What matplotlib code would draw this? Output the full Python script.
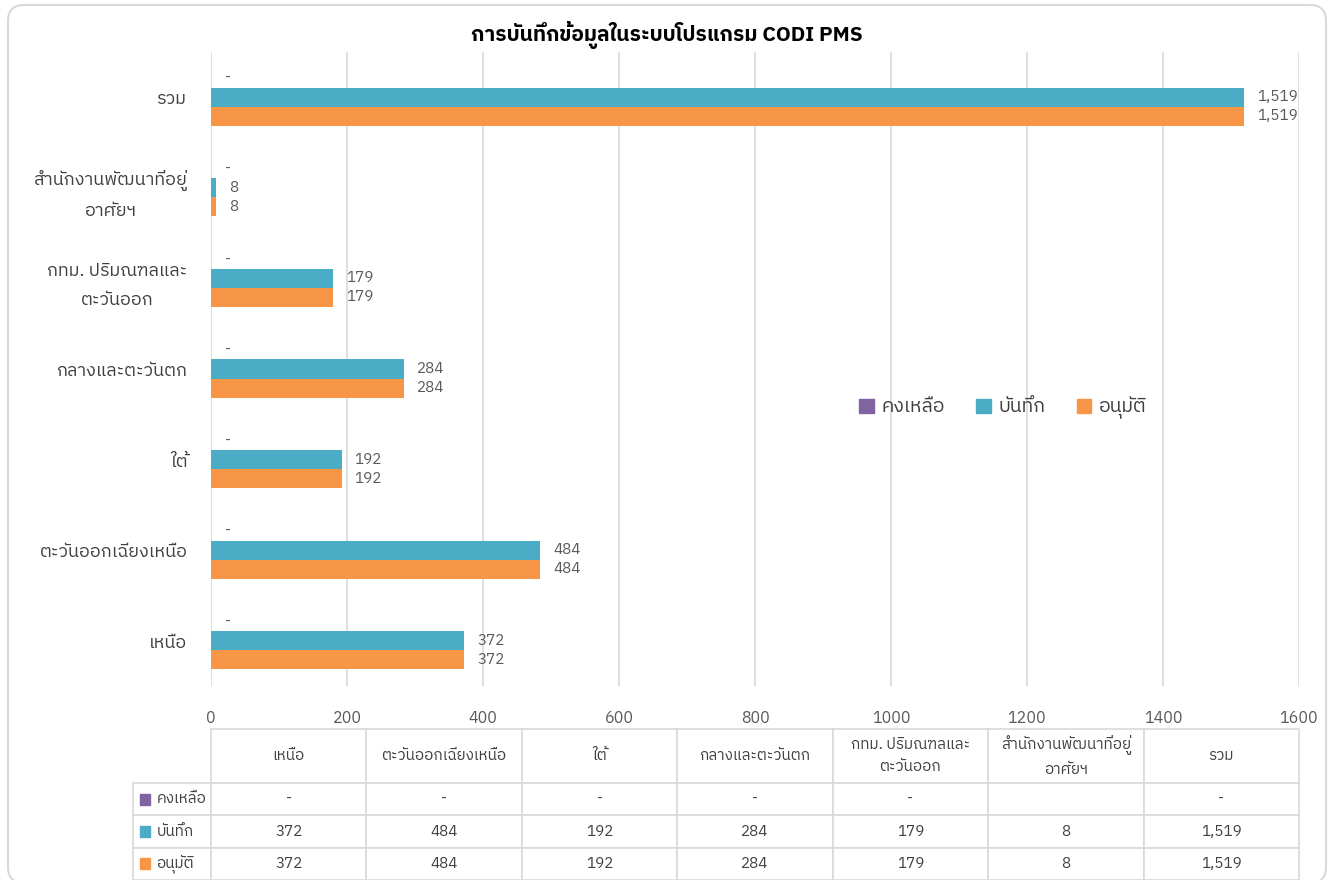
import matplotlib
matplotlib.use("Agg")
import matplotlib.pyplot as plt
import numpy as np
from matplotlib import font_manager
from matplotlib.ft2font import FT2Font
from matplotlib.patches import Patch, Rectangle, FancyBboxPatch
from matplotlib.table import Table
from matplotlib.transforms import IdentityTransform

# data (bottom to top, as in the chart)
categories = ['เหนือ', 'ตะวันออกเฉียงเหนือ', 'ใต้', 'กลางและตะวันตก',
              'กทม. ปริมณฑลและ\nตะวันออก', 'สำนักงานพัฒนาที่อยู่\nอาศัยฯ', 'รวม']
remaining = [0, 0, 0, 0, 0, 0, 0]
remaining_text = ['-', '-', '-', '-', '-', '', '-']
recorded = [372, 484, 192, 284, 179, 8, 1519]
approved = [372, 484, 192, 284, 179, 8, 1519]
series_names = ['คงเหลือ', 'บันทึก', 'อนุมัติ']
colors = ['#8064A2', '#4BACC6', '#F79646']
x_ticks = [0, 200, 400, 600, 800, 1000, 1200, 1400, 1600]
title = 'การบันทึกข้อมูลในระบบโปรแกรม CODI PMS'


# pick an installed font that has Thai glyphs
def find_thai_font():
    found = []
    for f in font_manager.fontManager.ttflist:
        try:
            cmap = FT2Font(f.fname).get_charmap()
        except Exception:
            continue
        if 0x0E01 in cmap:
            found.append(f.name)
    for name in found:
        if 'Thai' in name and 'Looped' not in name:
            return name
    return found[0] if found else 'DejaVu Sans'


thai = find_thai_font()
plt.rcParams['font.family'] = [thai, 'DejaVu Sans']

text_col = '#595959'
label_col = '#404040'
grid_col = '#d9d9d9'

W, H = 1333, 880
fig = plt.figure(figsize=(W / 100, H / 100), dpi=100)
fig.patch.set_facecolor('white')

# axes placed in pixel terms
left, right, top, bottom = 211, 1299, 52, 686
axw, axh = right - left, bottom - top
ax = fig.add_axes([left / W, 1 - bottom / H, axw / W, axh / H])

y = np.arange(len(categories))
h = 0.21
ax.barh(y + h, remaining, height=h, color=colors[0], linewidth=0)
ax.barh(y, recorded, height=h, color=colors[1], linewidth=0)
ax.barh(y - h, approved, height=h, color=colors[2], linewidth=0)

for i in range(len(categories)):
    ax.annotate('-', (remaining[i], y[i] + h), xytext=(14, 0), textcoords='offset pixels',
                ha='left', va='center', fontsize=11, color=text_col)
    ax.annotate(f'{recorded[i]:,}', (recorded[i], y[i]), xytext=(13, 0), textcoords='offset pixels',
                ha='left', va='center', fontsize=11, color=text_col)
    ax.annotate(f'{approved[i]:,}', (approved[i], y[i] - h), xytext=(13, 0), textcoords='offset pixels',
                ha='left', va='center', fontsize=11, color=text_col)

ax.set_xlim(0, 1600)
ax.set_ylim(-0.5, len(categories) - 0.5)
ax.set_xticks(x_ticks)
ax.set_yticks(y)
ax.set_yticklabels(categories, multialignment='center', linespacing=1.75)
ax.tick_params(axis='x', length=0, labelsize=11.5, colors=text_col, pad=17)
ax.tick_params(axis='y', length=0, labelsize=13, colors=label_col, pad=17)
ax.grid(axis='x', color=grid_col, linewidth=1.2)
ax.set_axisbelow(True)
for s in ax.spines.values():
    s.set_visible(False)

# legend in the middle right
handles = [Patch(color=c) for c in colors]
ax.legend(handles, series_names, ncol=3, frameon=False, loc='center',
          bbox_to_anchor=(1003 / W, 1 - 408 / H), bbox_transform=fig.transFigure,
          fontsize=14, handlelength=0.75, handleheight=0.75, handletextpad=0.4,
          columnspacing=1.6, labelcolor=label_col)

# title
fig.text(667 / W, 1 - 35 / H, title, ha='center', va='center', fontsize=15,
         fontweight='bold', color='#000000')

# data table under the axes (widths in axes fractions)
tb_left, tb_top, tb_bottom = 133, 729, 880
head_h, row_h = 54, 32.3
lab_w = (left - tb_left) / axw
col_w = 1 / len(categories)
tbl = Table(ax, bbox=[0, (bottom - tb_bottom) / axh, 1, (tb_bottom - tb_top) / axh])

c = tbl.add_cell(0, -1, lab_w, head_h / axh, text='')
c.visible_edges = ''
for j, cat in enumerate(categories):
    tbl.add_cell(0, j, col_w, head_h / axh, text=cat, loc='center', edgecolor=grid_col)

rows = [remaining_text,
        [f'{v:,}' for v in recorded],
        [f'{v:,}' for v in approved]]
for i, (name, vals) in enumerate(zip(series_names, rows)):
    c = tbl.add_cell(i + 1, -1, lab_w, row_h / axh, text=name, loc='left', edgecolor=grid_col)
    c.PAD = 0.3
    for j, v in enumerate(vals):
        tbl.add_cell(i + 1, j, col_w, row_h / axh, text=v, loc='center', edgecolor=grid_col)

tbl.auto_set_font_size(False)
tbl.set_fontsize(11)
for cell in tbl.get_celld().values():
    cell.get_text().set_color(label_col)
    cell.get_text().set_linespacing(1.75)
    cell.set_linewidth(1.2)
ax.add_table(tbl)

# colour keys in the table row labels
for i, col in enumerate(colors):
    yc = tb_top + head_h + row_h * (i + 0.5)
    fig.add_artist(Rectangle((140, H - yc - 5.5), 10, 11, color=col,
                             transform=IdentityTransform()))

# rounded chart border
fig.add_artist(FancyBboxPatch((8, H - 883), 1318, 878,
                              boxstyle='round,pad=0,rounding_size=16',
                              facecolor='none', edgecolor='#d9d9d9', linewidth=1.5,
                              transform=IdentityTransform()))

fig.savefig('out.png', dpi=100)
